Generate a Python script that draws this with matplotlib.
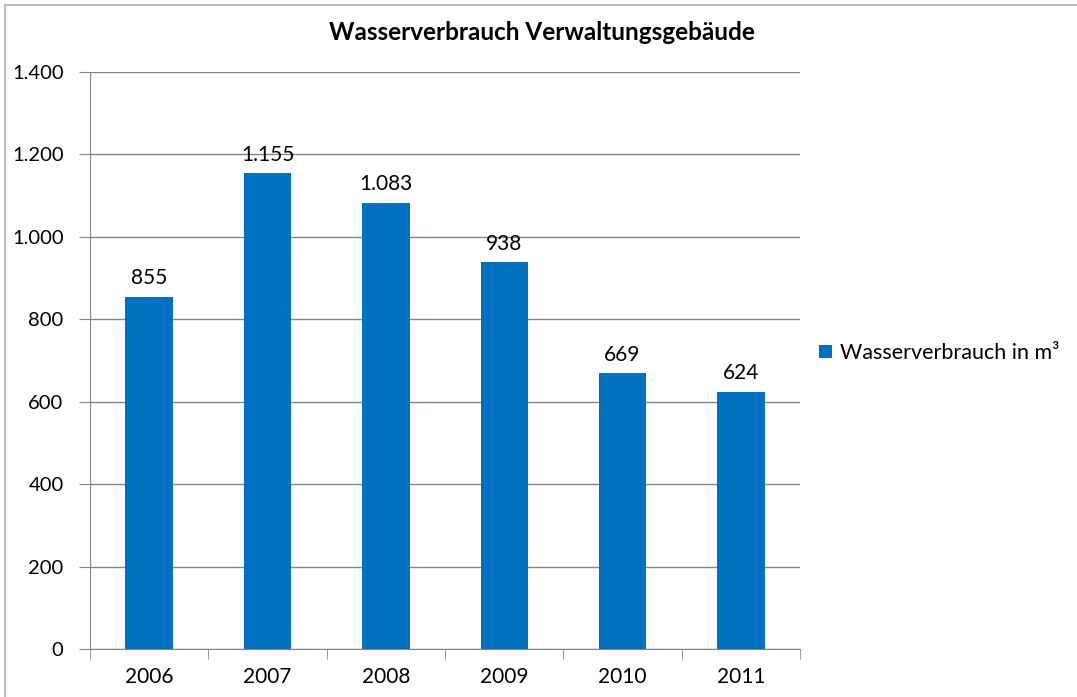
import matplotlib.pyplot as plt
from matplotlib.lines import Line2D
import numpy as np

# data
jahre = ['2006', '2007', '2008', '2009', '2010', '2011']
verbrauch = [855, 1155, 1083, 938, 669, 624]
yticks = [0, 200, 400, 600, 800, 1000, 1200, 1400]

def de_fmt(v):
    # german thousands separator
    return f'{v:,}'.replace(',', '.')

plt.rcParams['font.family'] = ['Lato', 'DejaVu Sans']

fig = plt.figure(figsize=(10.77, 6.97), dpi=100)
ax = fig.add_axes([90 / 1077, 1 - 649 / 697, 710 / 1077, 577 / 697])

x = np.arange(len(jahre))
bars = ax.bar(x, verbrauch, width=0.4, color='#0070C0', label='Wasserverbrauch in m³', zorder=3)

for xi, v in zip(x, verbrauch):
    ax.annotate(de_fmt(v), (xi, v), xytext=(0, 6), textcoords='offset points',
                ha='center', va='bottom', fontsize=15, color='black')

ax.set_xlim(-0.5, len(jahre) - 0.5)
ax.set_ylim(0, 1400)
ax.set_yticks(yticks)
ax.set_yticklabels([de_fmt(t) for t in yticks], fontsize=14.5)
ax.set_xticks(x)
ax.set_xticklabels(jahre, fontsize=15)
ax.tick_params(axis='x', length=0, pad=13)
ax.tick_params(axis='y', length=8, color='#868686', pad=11)
# category boundary ticks on the x axis
ax.set_xticks(np.arange(-0.5, len(jahre)), minor=True)
ax.tick_params(axis='x', which='minor', length=7, color='#868686')

ax.grid(axis='y', color='#868686', linewidth=1, zorder=0)
for s in ['top', 'right']:
    ax.spines[s].set_visible(False)
ax.spines['left'].set_color('#868686')
ax.spines['bottom'].set_color('#868686')

fig.text(542 / 1077, 1 - 33 / 697, 'Wasserverbrauch Verwaltungsgebäude',
         ha='center', va='center', fontsize=17.5, fontweight='bold')

fig.legend(handles=[bars], loc='center left', bbox_to_anchor=(800 / 1077, 1 - 353 / 697),
           frameon=False, fontsize=15.5, handlelength=0.6, handleheight=0.6, handletextpad=0.35)

# outer chart frame (only top and left visible in the crop)
fig.add_artist(Line2D([4.5 / 1077, 4.5 / 1077], [0, 1 - 4.5 / 697], transform=fig.transFigure,
                      color='#BEBEBE', linewidth=1.5))
fig.add_artist(Line2D([4.5 / 1077, 1], [1 - 4.5 / 697, 1 - 4.5 / 697], transform=fig.transFigure,
                      color='#BEBEBE', linewidth=1.5))

fig.savefig('out.png', dpi=100)
